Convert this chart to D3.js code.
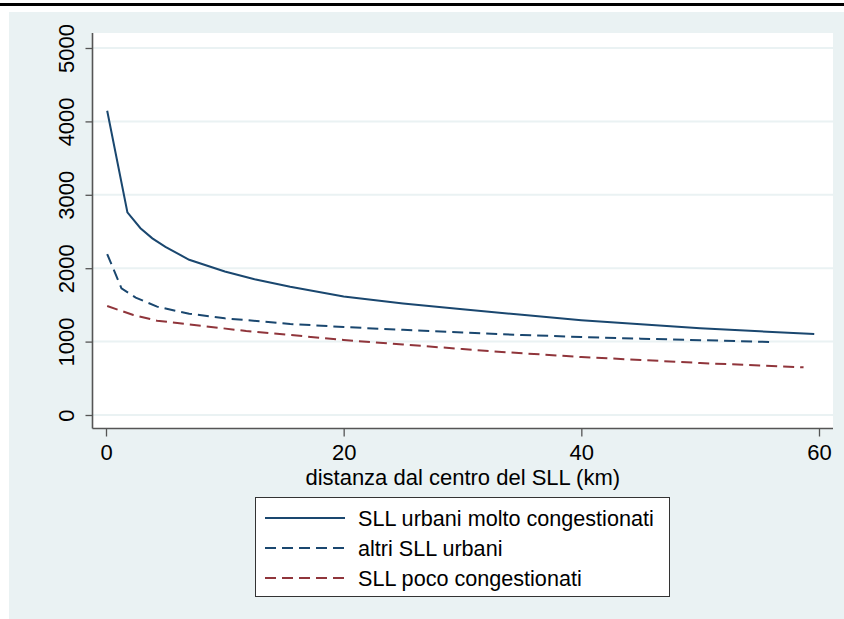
<!DOCTYPE html>
<html>
<head>
<meta charset="utf-8">
<script src="https://cdn.jsdelivr.net/npm/d3@7"></script>
<style>
  html, body { margin: 0; padding: 0; background: #ffffff; }
  svg { display: block; }
  text { font-family: "Liberation Sans", Arial, sans-serif; fill: #000; }
</style>
</head>
<body>
<svg id="chart" width="844" height="619"></svg>
<script>
// ---- data ----
const xTicks = [0, 20, 40, 60];
const yTicks = [0, 1000, 2000, 3000, 4000, 5000];
const xTitle = "distanza dal centro del SLL (km)";
const seriesNames = ["SLL urbani molto congestionati", "altri SLL urbani", "SLL poco congestionati"];

const urbaniMoltoX = [0.1, 1.8, 2.9, 3.9, 5, 7, 10, 12.5, 15.5, 20, 25, 30, 35, 40, 45, 50, 55, 59.6];
const urbaniMoltoY = [4146, 2762, 2545, 2407, 2290, 2115, 1955, 1850, 1748, 1615, 1520, 1440, 1365, 1292, 1235, 1182, 1140, 1104];

const altriX = [0.1, 1.3, 2.5, 4.3, 7, 10, 12, 15.5, 20, 25, 30, 35, 40, 45, 50, 55.9];
const altriY = [2193, 1726, 1600, 1476, 1380, 1317, 1290, 1240, 1199, 1160, 1125, 1090, 1063, 1040, 1020, 995];

const pocoX = [0.1, 2.3, 4.3, 7, 11.8, 15.5, 20, 25, 30, 33, 40, 45, 50, 55, 58.7];
const pocoY = [1485, 1362, 1285, 1235, 1144, 1090, 1022, 960, 899, 862, 790, 750, 708, 675, 650];

const seriesX = [urbaniMoltoX, altriX, pocoX];
const seriesY = [urbaniMoltoY, altriY, pocoY];
const colors = ["#1a476f", "#1a476f", "#90353b"];
const dashes = [null, "11,6", "11,6"];

// ---- layout ----
const svg = d3.select("#chart");
const W = 844, H = 619;
const FS = "22px";
const plot = { left: 92.5, right: 833, top: 33, bottom: 428.5 };

const x = d3.scaleLinear().domain([0, 60]).range([106, 819]);
const y = d3.scaleLinear().domain([0, 5000]).range([415, 48]);

// top rule
svg.append("rect").attr("x", 0).attr("y", 3).attr("width", W).attr("height", 3).attr("fill", "#000");
// graph background
svg.append("rect").attr("x", 9).attr("y", 12).attr("width", W - 9).attr("height", H - 12).attr("fill", "#eaf2f3");
// plot region
svg.append("rect").attr("x", plot.left).attr("y", plot.top)
  .attr("width", plot.right - plot.left).attr("height", plot.bottom - plot.top).attr("fill", "#ffffff");

// gridlines
svg.append("g").selectAll("line").data(yTicks).join("line")
  .attr("x1", plot.left).attr("x2", plot.right)
  .attr("y1", d => y(d)).attr("y2", d => y(d))
  .attr("stroke", "#eaf2f3").attr("stroke-width", 2);

// y axis
const yAxis = d3.axisLeft(y).tickValues(yTicks).tickSize(7).tickPadding(0).tickFormat(d3.format("d"));
const gy = svg.append("g").attr("transform", `translate(${plot.left},0)`).call(yAxis);
gy.select(".domain").remove();
gy.selectAll(".tick line").attr("stroke", "#555").attr("stroke-width", 1.3);
gy.selectAll(".tick text")
  .attr("x", 0).attr("y", 0).attr("dy", null)
  .attr("text-anchor", "middle")
  .attr("transform", "translate(-18.5,0) rotate(-90)")
  .style("font-size", FS)
  .style("font-family", "'Liberation Sans', Arial, sans-serif")
  .attr("fill", "#000");
svg.append("line").attr("x1", plot.left).attr("x2", plot.left).attr("y1", plot.top).attr("y2", plot.bottom)
  .attr("stroke", "#555").attr("stroke-width", 1.6);

// x axis
const xAxis = d3.axisBottom(x).tickValues(xTicks).tickSize(8).tickPadding(0).tickFormat(d3.format("d"));
const gx = svg.append("g").attr("transform", `translate(0,${plot.bottom})`).call(xAxis);
gx.select(".domain").remove();
gx.selectAll(".tick line").attr("stroke", "#555").attr("stroke-width", 1.3);
gx.selectAll(".tick text")
  .attr("y", 31).attr("dy", null)
  .style("font-size", FS)
  .style("font-family", "'Liberation Sans', Arial, sans-serif")
  .attr("fill", "#000");
svg.append("line").attr("x1", plot.left).attr("x2", plot.right).attr("y1", plot.bottom).attr("y2", plot.bottom)
  .attr("stroke", "#555").attr("stroke-width", 1.6);

// x title
svg.append("text").attr("x", (plot.left + plot.right) / 2).attr("y", 484.5)
  .attr("text-anchor", "middle").style("font-size", FS).text(xTitle);

// series
const line = d3.line().x(d => x(d[0])).y(d => y(d[1]));
seriesX.forEach((xs, i) => {
  const pts = xs.map((v, j) => [v, seriesY[i][j]]);
  svg.append("path").datum(pts)
    .attr("d", line)
    .attr("fill", "none")
    .attr("stroke", colors[i])
    .attr("stroke-width", 2)
    .attr("stroke-dasharray", dashes[i]);
});

// legend
const lg = svg.append("g");
lg.append("rect").attr("x", 255.5).attr("y", 497.5).attr("width", 414).attr("height", 99)
  .attr("fill", "#fff").attr("stroke", "#333").attr("stroke-width", 1);
const legY = [518, 548, 578];
seriesNames.forEach((name, i) => {
  lg.append("line").attr("x1", 265).attr("x2", 345).attr("y1", legY[i]).attr("y2", legY[i])
    .attr("stroke", colors[i]).attr("stroke-width", 2).attr("stroke-dasharray", dashes[i]);
  lg.append("text").attr("x", 358).attr("y", legY[i] + 8).style("font-size", "21.6px").text(name);
});
</script>
</body>
</html>
